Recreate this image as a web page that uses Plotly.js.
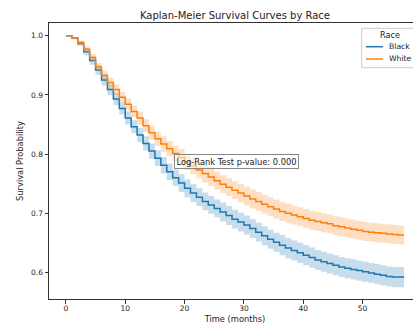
<!DOCTYPE html>
<html>
<head>
<meta charset="utf-8">
<script src="https://cdn.plot.ly/plotly-3.0.1.min.js"></script>
<style>
html, body { margin: 0; padding: 0; overflow: hidden; background: #fff; }
#chart { width: 430px; height: 327px; }
</style>
</head>
<body>
<div id="chart"></div>
<script>
// Time points (months)
const months = [0,1,2,3,4,5,6,7,8,9,10,11,12,13,14,15,16,17,18,19,20,21,22,23,24,25,26,27,28,29,30,31,32,33,34,35,36,37,38,39,40,41,42,43,44,45,46,47,48,49,50,51,52,53,54,55,56,57];

// Black: survival estimate and 95% CI
const blackSurv = [1.000,0.996,0.987,0.973,0.958,0.942,0.925,0.909,0.893,0.877,0.861,0.846,0.832,0.818,0.805,0.793,0.781,0.770,0.760,0.751,0.742,0.734,0.727,0.720,0.714,0.708,0.702,0.696,0.690,0.685,0.680,0.674,0.668,0.662,0.656,0.651,0.646,0.641,0.637,0.633,0.629,0.625,0.621,0.618,0.615,0.612,0.609,0.607,0.605,0.603,0.601,0.599,0.597,0.595,0.593,0.592,0.592,0.592];
const blackLower = [1.000,0.994,0.983,0.967,0.951,0.934,0.916,0.900,0.883,0.867,0.850,0.835,0.820,0.806,0.792,0.780,0.767,0.756,0.746,0.736,0.727,0.719,0.712,0.705,0.699,0.693,0.686,0.680,0.674,0.669,0.664,0.658,0.652,0.646,0.640,0.635,0.629,0.624,0.620,0.616,0.612,0.608,0.604,0.601,0.598,0.595,0.592,0.590,0.588,0.586,0.584,0.582,0.580,0.578,0.576,0.575,0.575,0.575];
const blackUpper = [1.000,0.998,0.991,0.979,0.965,0.950,0.934,0.918,0.903,0.887,0.872,0.857,0.844,0.830,0.818,0.806,0.795,0.784,0.774,0.766,0.757,0.749,0.742,0.735,0.729,0.723,0.718,0.712,0.706,0.701,0.696,0.690,0.684,0.678,0.672,0.667,0.663,0.658,0.654,0.650,0.646,0.642,0.638,0.635,0.632,0.629,0.626,0.624,0.622,0.620,0.618,0.616,0.614,0.612,0.610,0.609,0.609,0.609];

// White: survival estimate and 95% CI
const whiteSurv = [1.000,0.996,0.988,0.977,0.963,0.947,0.933,0.921,0.909,0.896,0.884,0.872,0.861,0.848,0.836,0.826,0.817,0.809,0.801,0.794,0.787,0.780,0.773,0.767,0.761,0.755,0.749,0.744,0.739,0.734,0.729,0.724,0.720,0.715,0.711,0.707,0.703,0.700,0.697,0.694,0.691,0.688,0.686,0.684,0.682,0.679,0.677,0.675,0.673,0.671,0.669,0.668,0.667,0.666,0.665,0.664,0.663,0.663];
const whiteLower = [1.000,0.994,0.984,0.972,0.957,0.940,0.925,0.913,0.900,0.887,0.874,0.862,0.850,0.837,0.824,0.814,0.804,0.796,0.788,0.780,0.773,0.766,0.759,0.752,0.746,0.740,0.734,0.729,0.724,0.718,0.713,0.708,0.704,0.699,0.695,0.691,0.687,0.684,0.681,0.678,0.675,0.672,0.670,0.668,0.666,0.663,0.661,0.659,0.657,0.655,0.653,0.652,0.651,0.650,0.649,0.648,0.647,0.647];
const whiteUpper = [1.000,0.998,0.992,0.982,0.969,0.954,0.941,0.929,0.918,0.905,0.894,0.882,0.872,0.859,0.848,0.838,0.830,0.822,0.814,0.808,0.801,0.794,0.787,0.782,0.776,0.770,0.764,0.759,0.754,0.750,0.745,0.740,0.736,0.731,0.727,0.723,0.719,0.716,0.713,0.710,0.707,0.704,0.702,0.700,0.698,0.695,0.693,0.691,0.689,0.687,0.685,0.684,0.683,0.682,0.681,0.680,0.679,0.679];

const groups = ["Black", "White"];
const legendTitle = "Race";
const lineColors = ["#1f77b4", "#ff7f0e"];
const bandColors = ["rgba(31,119,180,0.25)", "rgba(255,127,14,0.25)"];
const survs = [blackSurv, whiteSurv];
const lowers = [blackLower, whiteLower];
const uppers = [blackUpper, whiteUpper];

const traces = [];
groups.forEach((g, i) => {
  traces.push({
    x: months, y: lowers[i], type: "scatter", mode: "lines",
    line: {width: 0, shape: "hv", color: lineColors[i]},
    showlegend: false, hoverinfo: "skip"
  });
  traces.push({
    x: months, y: uppers[i], type: "scatter", mode: "lines",
    line: {width: 0, shape: "hv", color: lineColors[i]},
    fill: "tonexty", fillcolor: bandColors[i],
    showlegend: false, hoverinfo: "skip"
  });
  traces.push({
    x: months, y: survs[i], type: "scatter", mode: "lines",
    name: g, showlegend: false,
    line: {width: 1.5, shape: "hv", color: lineColors[i]}
  });
});

const axisCommon = {
  showline: true, mirror: true, linecolor: "#333", linewidth: 1,
  ticks: "outside", ticklen: 3.5, tickwidth: 1, tickcolor: "#333",
  showgrid: false, zeroline: false,
  tickfont: {family: "DejaVu Sans", size: 7.5, color: "#222"}
};

// Legend box (matplotlib-style, inside the axes, upper right)
const legX0 = 0.8406, legX1 = 1.05, legY0 = 0.838, legY1 = 0.9808;
const itemY = [0.9141, 0.8696];
const handleX0 = 0.852, handleX1 = 0.898, textX = 0.9086, titleX = 0.8844;

const shapes = [{
  type: "rect", xref: "paper", yref: "paper",
  x0: legX0, x1: legX1, y0: legY0, y1: legY1,
  line: {color: "#cccccc", width: 1}, fillcolor: "rgba(255,255,255,0.8)", layer: "above"
}];
const annotations = [{
  x: titleX, y: 0.9565, xref: "paper", yref: "paper",
  xanchor: "left", yanchor: "middle", showarrow: false,
  text: legendTitle, font: {family: "DejaVu Sans", size: 8.2, color: "#222"}
}];
groups.forEach((g, i) => {
  shapes.push({
    type: "line", xref: "paper", yref: "paper",
    x0: handleX0, x1: handleX1, y0: itemY[i], y1: itemY[i],
    line: {color: lineColors[i], width: 1.5}, layer: "above"
  });
  annotations.push({
    x: textX, y: itemY[i], xref: "paper", yref: "paper",
    xanchor: "left", yanchor: "middle", showarrow: false,
    text: g, font: {family: "DejaVu Sans", size: 7.7, color: "#222"}
  });
});
annotations.push({
  x: 18.3, y: 0.788, xref: "x", yref: "y",
  xanchor: "left", yanchor: "middle",
  text: "Log-Rank Test p-value: 0.000",
  showarrow: false,
  font: {family: "DejaVu Sans", size: 8.3, color: "#222"},
  bgcolor: "rgba(255,255,255,0.5)", bordercolor: "#888", borderwidth: 1, borderpad: 1.5
});

const layout = {
  width: 430, height: 327,
  margin: {l: 49, r: 9, t: 23, b: 28},
  paper_bgcolor: "#fff", plot_bgcolor: "#fff",
  font: {family: "DejaVu Sans", color: "#222"},
  showlegend: false,
  title: {
    text: "Kaplan-Meier Survival Curves by Race",
    font: {family: "DejaVu Sans", size: 10, color: "#222"},
    xref: "paper", x: 0.5, xanchor: "center",
    yref: "container", y: 1 - 15/327, yanchor: "middle"
  },
  xaxis: Object.assign({}, axisCommon, {
    range: [-2.85, 59.85],
    tickvals: [0, 10, 20, 30, 40, 50],
    ticklabelstandoff: -2,
    title: {text: "Time (months)", font: {family: "DejaVu Sans", size: 8.3, color: "#222"}, standoff: 4}
  }),
  yaxis: Object.assign({}, axisCommon, {
    range: [0.555, 1.0215],
    tickvals: [0.6, 0.7, 0.8, 0.9, 1.0],
    tickformat: ".1f",
    title: {text: "Survival Probability", font: {family: "DejaVu Sans", size: 8.3, color: "#222"}, standoff: 6}
  }),
  shapes: shapes,
  annotations: annotations
};

Plotly.newPlot("chart", traces, layout, {displayModeBar: false, staticPlot: true});
</script>
</body>
</html>
